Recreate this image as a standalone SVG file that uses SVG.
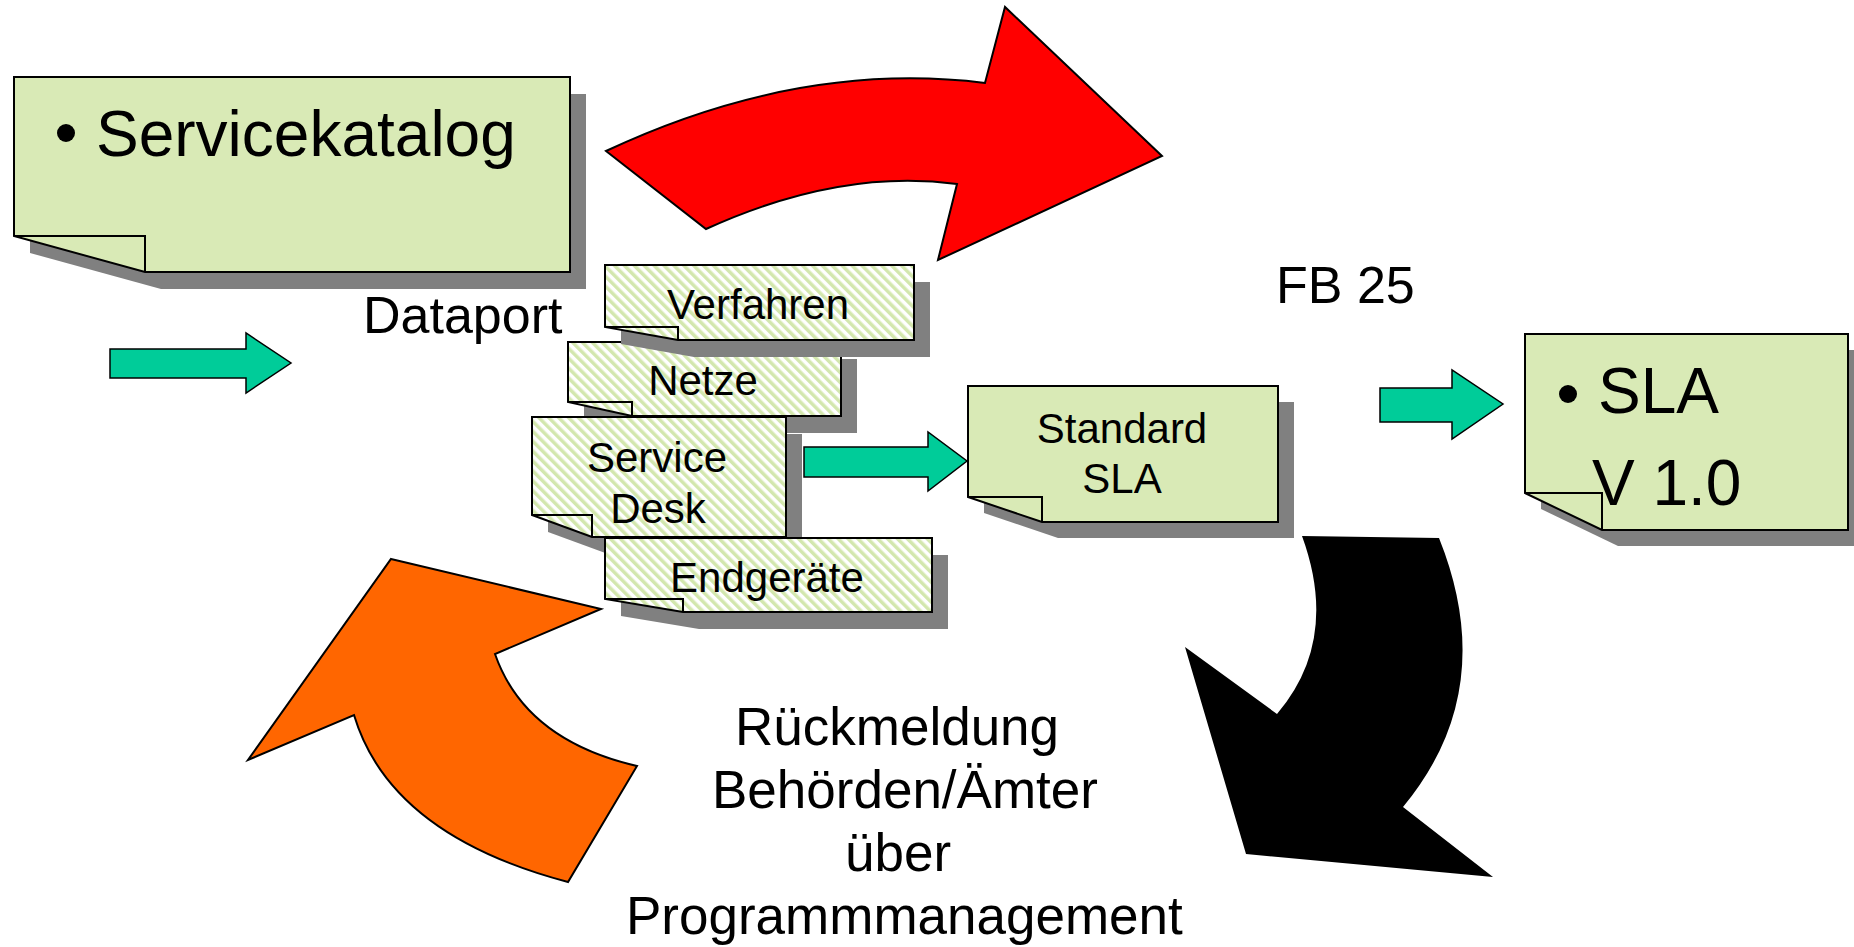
<svg xmlns="http://www.w3.org/2000/svg" width="1854" height="947" viewBox="0 0 1854 947">
<defs>
<pattern id="stripes" width="7" height="7" patternUnits="userSpaceOnUse" patternTransform="rotate(-45)">
<rect width="7" height="7" fill="#ffffff"/>
<rect width="3.5" height="7" fill="#d3e7ae"/>
</pattern>
</defs>
<style>
.shadow{fill:#808080;stroke:none}
.note{fill:#d9eab6;stroke:#000;stroke-width:2;stroke-linejoin:miter}
.snote{fill:url(#stripes);stroke:#000;stroke-width:2}
.flap{fill:none;stroke:#000;stroke-width:2}
.big{font-family:"Liberation Sans",Arial,sans-serif;font-size:64px;fill:#000}
.mid{font-family:"Liberation Sans",Arial,sans-serif;font-size:52px;fill:#000}
.lab{font-family:"Liberation Sans",Arial,sans-serif;font-size:53px;fill:#000}
.small{font-family:"Liberation Sans",Arial,sans-serif;font-size:42px;fill:#000;text-anchor:middle}
.garrow{fill:#00cc99;stroke:#000;stroke-width:1.5}
</style>
<rect width="1854" height="947" fill="#ffffff"/>

<g id="arrows">
<path id="red-arrow" d="M606,151 Q800,60 985,83 L1005,7 L1162,156 L938,260 L957,184 Q840,168 706,229 Z" fill="#ff0000" stroke="#000" stroke-width="2"/>
<path id="orange-arrow" d="M391,559 L601,609 L495,654 Q525,740 637,766 L568,882 Q390,835 354,715 L248,760 Z" fill="#ff6600" stroke="#000" stroke-width="2"/>
<path id="black-arrow" d="M1302,536 L1439,538 Q1500,690 1403,807 L1493,877 L1246,854 L1185,647 L1277,714 Q1340,640 1302,536 Z" fill="#000000"/>
<path d="M110,349 H246 V333 L291,363 L246,393 V378 H110 Z" class="garrow"/>
<path d="M804,447 H928 V432 L967,461 L928,491 V477 H804 Z" class="garrow"/>
<path d="M1380,388 H1452 V370 L1503,404 L1452,439 V422 H1380 Z" class="garrow"/>
</g>

<g id="servicekatalog">
<path class="shadow" transform="translate(16,17)" d="M14,77 H570 V272 H145 L14,236 Z"/>
<path class="note" d="M14,77 H570 V272 H145 L14,236 Z"/>
<path class="flap" d="M14,236 H145 V272"/>
<circle cx="66" cy="133" r="9" fill="#000"/>
<text class="big" x="96" y="156">Servicekatalog</text>
</g>

<g id="netze">
<path class="shadow" transform="translate(16,17)" d="M568,342 H841 V416 H632 L568,402 Z"/>
<path class="snote" d="M568,342 H841 V416 H632 L568,402 Z"/>
<path class="flap" d="M568,402 H632 V416"/>
<text class="small" x="703" y="395">Netze</text>
</g>

<g id="verfahren">
<path class="shadow" transform="translate(16,17)" d="M605,265 H914 V340 H678 L605,327 Z"/>
<path class="snote" d="M605,265 H914 V340 H678 L605,327 Z"/>
<path class="flap" d="M605,327 H678 V340"/>
<text class="small" x="758" y="319">Verfahren</text>
</g>

<g id="servicedesk">
<path class="shadow" transform="translate(16,17)" d="M532,417 H786 V537 H592 L532,515 Z"/>
<path class="snote" d="M532,417 H786 V537 H592 L532,515 Z"/>
<path class="flap" d="M532,515 H592 V537"/>
<text class="small" x="657" y="472">Service</text>
<text class="small" x="658" y="523">Desk</text>
</g>

<g id="endgeraete">
<path class="shadow" transform="translate(16,17)" d="M605,538 H932 V612 H683 L605,599 Z"/>
<path class="snote" d="M605,538 H932 V612 H683 L605,599 Z"/>
<path class="flap" d="M605,599 H683 V612"/>
<text class="small" x="767" y="592">Endgeräte</text>
</g>

<g id="standardsla">
<path class="shadow" transform="translate(16,16)" d="M968,386 H1278 V522 H1042 L968,497 Z"/>
<path class="note" d="M968,386 H1278 V522 H1042 L968,497 Z"/>
<path class="flap" d="M968,497 H1042 V522"/>
<text class="small" x="1122" y="443">Standard</text>
<text class="small" x="1122" y="493">SLA</text>
</g>

<g id="sla">
<path class="shadow" transform="translate(16,16)" d="M1525,334 H1848 V530 H1602 L1525,493 Z"/>
<path class="note" d="M1525,334 H1848 V530 H1602 L1525,493 Z"/>
<path class="flap" d="M1525,493 H1602 V530"/>
<circle cx="1568" cy="394" r="9" fill="#000"/>
<text class="big" x="1598" y="413">SLA</text>
<text class="big" x="1592" y="505">V 1.0</text>
</g>

<g id="labels">
<text class="mid" x="363" y="333">Dataport</text>
<text class="mid" x="1276" y="303">FB 25</text>
<text class="lab" x="735" y="745">Rückmeldung</text>
<text class="lab" x="712" y="808">Behörden/Ämter</text>
<text class="lab" x="845" y="871">über</text>
<text class="lab" x="626" y="934">Programmmanagement</text>
</g>
</svg>
